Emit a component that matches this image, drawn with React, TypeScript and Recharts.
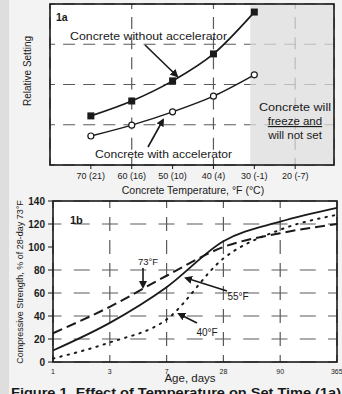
import React from "react";
import {
  LineChart,
  Line,
  XAxis,
  YAxis,
  CartesianGrid,
  ReferenceArea,
} from "recharts";

// 1a: setting vs concrete temperature
const tempsF = [70, 60, 50, 40, 30];
const tempTicks = [70, 60, 50, 40, 30, 20];
const tempLabels = ["70 (21)", "60 (16)", "50 (10)", "40 (4)", "30 (-1)", "20 (-7)"];
const withoutAccel = [1.22, 1.59, 2.09, 2.76, 3.8];
const withAccel = [0.72, 0.99, 1.32, 1.71, 2.24];

// 1b: strength vs age
const ageLabels = ["1", "3", "7", "28", "90", "365"];
const strength73 = [25, 48, 75, 100, 112, 120];
const strength55 = [10, 34, 65, 105, 122, 134];
const strength40 = [3, 17, 37, 90, 115, 128];
const strengthTicks = [0, 20, 40, 60, 80, 100, 120, 140];

const FONT = "'Liberation Sans', Arial, sans-serif";
const INK = "#1a1a1a";
const GRID = "#5a5a5a";

const setData = tempsF.map((t, i) => ({
  t,
  without: withoutAccel[i],
  with: withAccel[i],
}));

const ageData = ageLabels.map((_, i) => ({
  i,
  f73: strength73[i],
  f55: strength55[i],
  f40: strength40[i],
}));

function SquareDot(props: any) {
  const { cx, cy } = props;
  if (cx == null || cy == null) return null;
  return <rect x={cx - 3.5} y={cy - 3.5} width={7} height={7} fill={INK} />;
}

function Arrow({ x1, y1, x2, y2 }: { x1: number; y1: number; x2: number; y2: number }) {
  return (
    <line
      x1={x1}
      y1={y1}
      x2={x2}
      y2={y2}
      stroke={INK}
      strokeWidth={1.6}
      markerEnd="url(#head)"
    />
  );
}

function SetChart() {
  return (
    <LineChart
      width={342}
      height={200}
      data={setData}
      margin={{ top: 4, right: 8, bottom: 5, left: 50 }}
      style={{ fontFamily: FONT }}
    >
      <CartesianGrid fill="#fff" stroke="none" />
      <ReferenceArea x1={31} x2={10.5} fill="#dcdcdc" fillOpacity={0.75} stroke="none" />
      <CartesianGrid
        vertical={false}
        stroke={GRID}
        strokeWidth={1.2}
        strokeDasharray="12 8.1"
        strokeDashoffset={7}
      />
      <CartesianGrid
        horizontal={false}
        stroke={GRID}
        strokeWidth={1.2}
        strokeDasharray="12 8.1"
        strokeDashoffset={7}
      />
      <XAxis
        dataKey="t"
        type="number"
        domain={[10.5, 80]}
        reversed
        ticks={tempTicks}
        tickFormatter={(v: number) => tempLabels[tempTicks.indexOf(v)] ?? ""}
        tick={{ fontSize: 9, fill: INK }}
        tickLine={{ stroke: INK }}
        tickSize={4}
        tickMargin={4}
        axisLine={false}
        height={30}
        allowDataOverflow
      />
      <YAxis hide domain={[0, 4]} ticks={[0, 1, 2, 3, 4]} type="number" />
      <Line
        type="monotone"
        dataKey="without"
        stroke={INK}
        strokeWidth={1.7}
        dot={<SquareDot />}
        isAnimationActive={false}
      />
      <Line
        type="monotone"
        dataKey="with"
        stroke={INK}
        strokeWidth={1.5}
        dot={{ r: 3, fill: "#fff", stroke: INK, strokeWidth: 1.2 }}
        isAnimationActive={false}
      />
    </LineChart>
  );
}

function StrengthChart() {
  return (
    <LineChart
      width={342}
      height={209}
      data={ageData}
      margin={{ top: 16, right: 5, bottom: 18, left: 13 }}
      style={{ fontFamily: FONT }}
    >
      <CartesianGrid fill="#fff" stroke="none" />
      <CartesianGrid
        vertical={false}
        stroke={GRID}
        strokeWidth={1.2}
        strokeDasharray="16 12.25"
        strokeDashoffset={7.5}
      />
      <CartesianGrid
        horizontal={false}
        stroke={GRID}
        strokeWidth={1.2}
        strokeDasharray="14 9"
        strokeDashoffset={7}
      />
      <XAxis
        dataKey="i"
        type="number"
        domain={[0, 5]}
        ticks={[0, 1, 2, 3, 4, 5]}
        tickFormatter={(v: number) => ageLabels[v] ?? ""}
        tick={{ fontSize: 7, fill: INK }}
        tickLine={false}
        tickSize={5}
        tickMargin={2}
        axisLine={false}
        height={14}
      />
      <YAxis
        domain={[0, 140]}
        ticks={strengthTicks}
        width={40}
        tick={{ fontSize: 10, fill: INK, fontWeight: 600 }}
        tickLine={{ stroke: INK }}
        tickSize={5}
        tickMargin={3}
        axisLine={false}
      />
      <Line
        type="monotone"
        dataKey="f73"
        stroke={INK}
        strokeWidth={2}
        strokeDasharray="10 5"
        dot={false}
        isAnimationActive={false}
      />
      <Line
        type="monotone"
        dataKey="f55"
        stroke={INK}
        strokeWidth={1.8}
        dot={false}
        isAnimationActive={false}
      />
      <Line
        type="monotone"
        dataKey="f40"
        stroke={INK}
        strokeWidth={2}
        strokeDasharray="1.5 6"
        strokeLinecap="round"
        dot={false}
        isAnimationActive={false}
      />
    </LineChart>
  );
}

function Overlay() {
  const t = { fontFamily: FONT, fill: INK } as const;
  return (
    <svg
      width={342}
      height={394}
      style={{ position: "absolute", left: 0, top: 0, pointerEvents: "none" }}
    >
      <defs>
        <marker id="head" markerWidth="8" markerHeight="8" refX="6" refY="4" orient="auto" markerUnits="userSpaceOnUse">
          <path d="M0,0 L8,4 L0,8 z" fill={INK} />
        </marker>
      </defs>
      {/* frames */}
      <rect x={50} y={4} width={284} height={161} fill="none" stroke={INK} strokeWidth={1.6} />
      <rect x={53} y={201} width={284} height={161} fill="none" stroke={INK} strokeWidth={1.6} />

      {/* 1a texts */}
      <text x={56} y={21} {...t} fontSize={10.5} fontWeight={700}>1a</text>
      <text x={70} y={40} {...t} fontSize={11.5} textLength={157} lengthAdjust="spacingAndGlyphs">Concrete without accelerator</text>
      <Arrow x1={145} y1={45} x2={177} y2={76} />
      <text x={95} y={158} {...t} fontSize={11.5} textLength={137} lengthAdjust="spacingAndGlyphs">Concrete with accelerator</text>
      <Arrow x1={148} y1={147} x2={163} y2={120} />
      <text x={259} y={111} {...t} fontSize={11.5} textLength={72} lengthAdjust="spacingAndGlyphs">Concrete will</text>
      <text x={295} y={125} {...t} fontSize={11.5} textAnchor="middle" textDecoration="underline">freeze and</text>
      <text x={295} y={139} {...t} fontSize={11.5} textAnchor="middle">will not set</text>
      <text x={193} y={194} {...t} fontSize={10.5} textAnchor="middle">Concrete Temperature, °F (°C)</text>
      <text
        x={0}
        y={0}
        {...t}
        fontSize={10}
        textAnchor="middle"
        transform="translate(31,71) rotate(-90)"
      >
        Relative Setting
      </text>

      {/* 1b texts */}
      <text x={70} y={224} {...t} fontSize={11} fontWeight={700}>1b</text>
      <text x={148} y={265} {...t} fontSize={9.5} textAnchor="middle">73°F</text>
      <Arrow x1={143} y1={268} x2={143} y2={287} />
      <text x={238} y={300} {...t} fontSize={10} textAnchor="middle">55°F</text>
      <Arrow x1={227} y1={291} x2={186} y2={278} />
      <text x={207} y={336} {...t} fontSize={10} textAnchor="middle">40°F</text>
      <Arrow x1={197} y1={323} x2={179} y2={314} />
      <text
        x={0}
        y={0}
        {...t}
        fontSize={9}
        textAnchor="middle"
        transform="translate(23,282) rotate(-90)"
      >
        Compressive Strength, % of 28-day 73°F
      </text>
      <text x={190} y={382} {...t} fontSize={11.5} textAnchor="middle">Age, days</text>
      <text x={11} y={397} {...t} fontSize={13} fontWeight={700} textLength={330} lengthAdjust="spacingAndGlyphs">
        Figure 1. Effect of Temperature on Set Time (1a)
      </text>
    </svg>
  );
}

export default function App() {
  return (
    <div
      style={{
        position: "absolute",
        left: 0,
        top: 0,
        width: 342,
        height: 394,
        overflow: "hidden",
        background: "#f3f3f3",
        fontFamily: FONT,
      }}
    >
      <div style={{ position: "absolute", left: 0, top: 0, width: 9, height: 394, background: "#dedede" }} />
      <div style={{ position: "absolute", left: 0, top: 0 }}>
        <SetChart />
      </div>
      <div style={{ position: "absolute", left: 0, top: 185 }}>
        <StrengthChart />
      </div>
      <Overlay />
    </div>
  );
}
